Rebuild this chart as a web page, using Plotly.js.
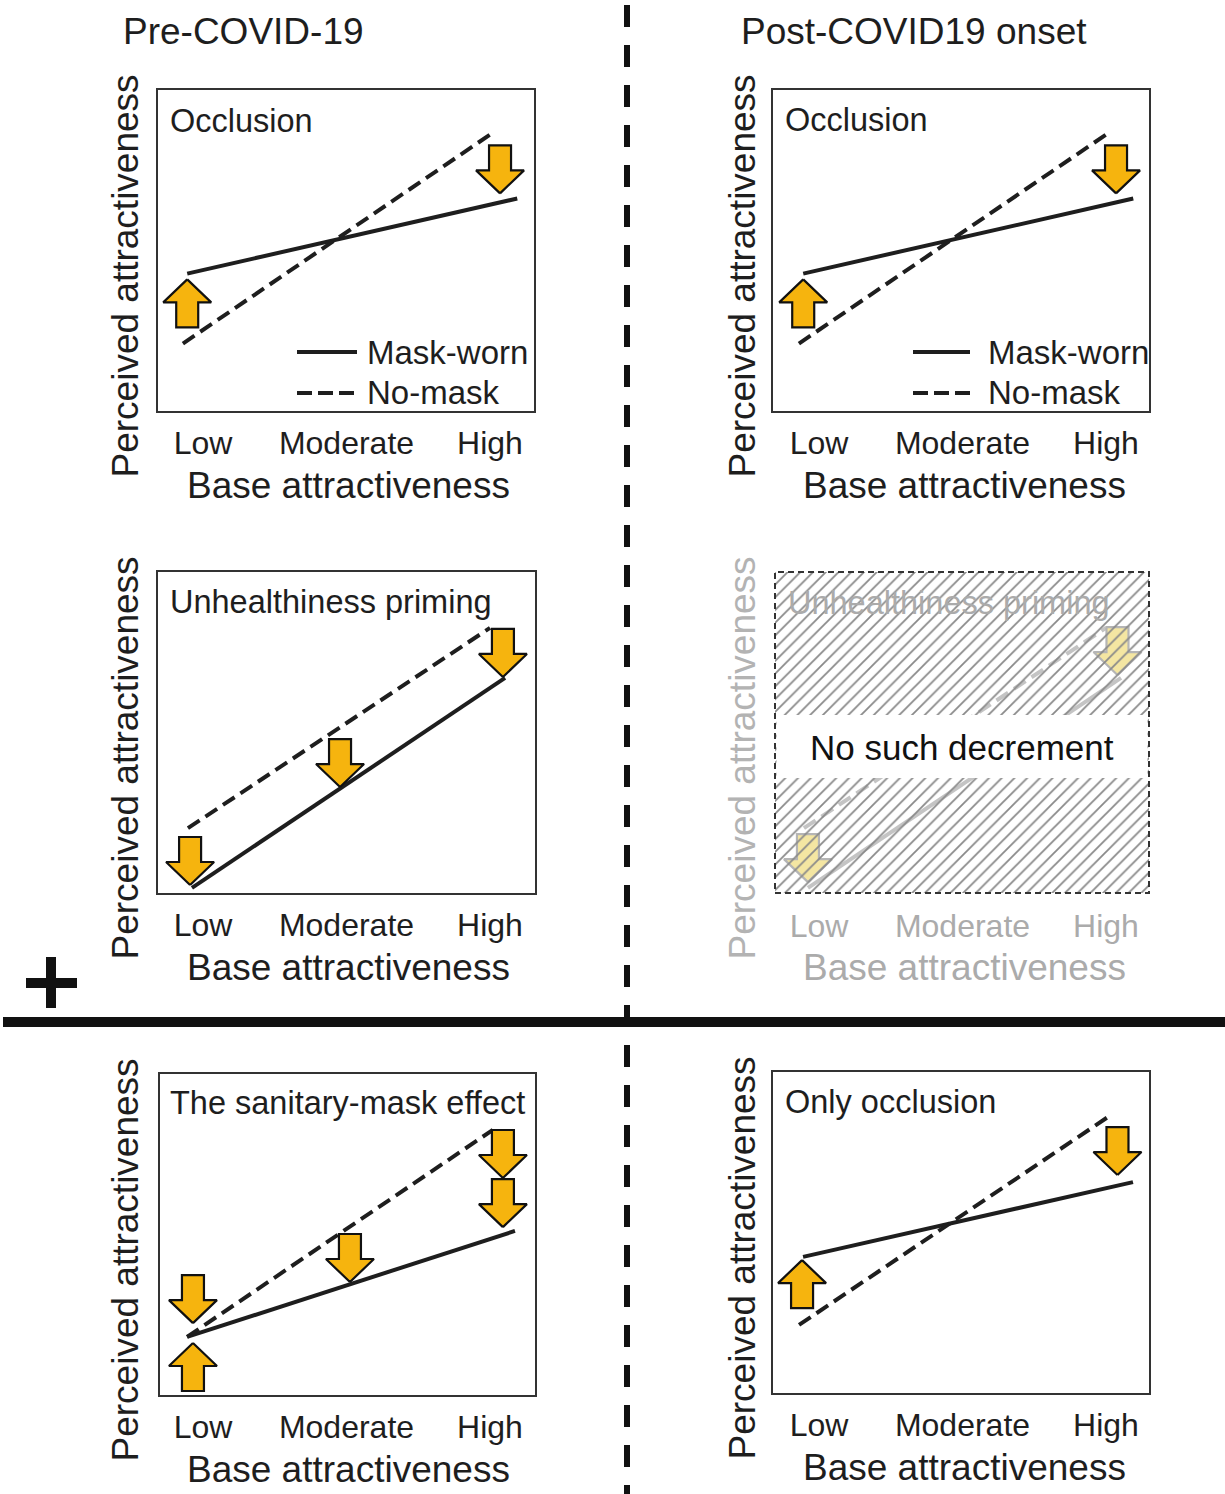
<!DOCTYPE html>
<html><head><meta charset="utf-8">
<script src="https://cdn.plot.ly/plotly-3.0.1.min.js"></script>
<style>html,body{margin:0;padding:0;background:#fff}</style>
</head><body><div id="chart" style="width:1225px;height:1494px"></div>
<script>
// ---------------- text ----------------
const levels=[0,1,2];
const levelLabels=['Low','Moderate','High'];
const columnTitles=['Pre-COVID-19','Post-COVID19 onset'];
const panelTitles=['Occlusion','Occlusion','Unhealthiness priming','Unhealthiness priming','The sanitary-mask effect','Only occlusion'];
const legendNames=['Mask-worn','No-mask'];
const yTitle='Perceived attractiveness';
const xTitle='Base attractiveness';
const bandText='No such decrement';

// ---------------- data (x: 0=Low,1=Moderate,2=High ; y: 0..10) ----------------
// Occlusion (pre & post)
const occlMaskX=[-0.11,2.19],   occlMaskY=[4.28,6.62];
const occlNoMaskX=[-0.14,2.01], occlNoMaskY=[2.10,8.64];
const occlArrowX=[-0.11,2.07],  occlArrowY=[4.10,6.78], occlArrowDir=[1,-1];
// Unhealthiness priming
const unhMaskX=[-0.077,2.105],  unhMaskY=[0.16,6.70];
const unhNoMaskX=[-0.105,2.00], unhNoMaskY=[2.02,8.26];
const unhArrowX=[-0.09,0.955,2.09], unhArrowY=[0.25,3.30,6.73], unhArrowDir=[-1,-1,-1];
// Unhealthiness priming (faded, post-COVID)
const fadeArrowX=[-0.077,2.08], fadeArrowY=[0.34,6.79], fadeArrowDir=[-1,-1];
// Sanitary-mask effect
const sanMaskX=[-0.111,2.174],  sanMaskY=[1.81,5.11];
const sanNoMaskX=[-0.111,2.02], sanNoMaskY=[1.81,8.26];
const sanArrowX=[-0.07,-0.07,1.024,2.09,2.09], sanArrowY=[2.24,1.62,3.52,6.76,5.23], sanArrowDir=[-1,1,-1,-1,-1];
// Only occlusion
const onlyMaskX=[-0.111,2.188], onlyMaskY=[4.24,6.57];
const onlyNoMaskX=[-0.139,2.014], onlyNoMaskY=[2.12,8.60];
const onlyArrowX=[-0.118,2.08], onlyArrowY=[4.14,6.79], onlyArrowDir=[1,-1];

// ---------------- layout constants ----------------
const W=1225,H=1494;
const FONT='Liberation Sans, Arial, Helvetica, sans-serif';
const INK='#1e1e1e', BOX='#333333';
const FADE_TXT='#ababab', FADE_LINE='#c4c4c4';
const ARROW_FILL='#F6B40E', FADE_FILL='#F4E6A2', FADE_EDGE='#b5b5b5';
const LW=4;
const UNIT=143.5; // px per level step
const YR=[0,10];
const PANELS={
  TL:{n:1,xd:[158,534],yd:[90,411],low:203},
  TR:{n:2,xd:[773,1149],yd:[90,411],low:819},
  ML:{n:3,xd:[158,535],yd:[572,893],low:203},
  MR:{n:4,xd:[775,1149],yd:[572,893],low:819},
  BL:{n:5,xd:[160,535],yd:[1074,1395],low:203},
  BR:{n:6,xd:[773,1149],yd:[1072,1393],low:819}
};
const AR={L:48,HL:23,HW:24,SW:11};

function px(x){return x/W;} function py(y){return 1-y/H;}
function xr(p){return [(p.xd[0]-p.low)/UNIT,(p.xd[1]-p.low)/UNIT];}
function ax(p,k){return (p.n===1?k:k+p.n);}

const traces=[];
function lineTrace(p,x,y,dash,color){
  traces.push({type:'scatter',mode:'lines',x:x,y:y,xaxis:ax(p,'x'),yaxis:ax(p,'y'),
    line:{color:color||INK,width:LW,dash:dash},hoverinfo:'skip',showlegend:false});
}
function arrowTrace(p,X,Y,D,fill,edge){
  const sx=UNIT, sy=(p.yd[1]-p.yd[0])/(YR[1]-YR[0]);
  const pts=[[0,0],[AR.HW,AR.HL],[AR.SW,AR.HL],[AR.SW,AR.L],[-AR.SW,AR.L],[-AR.SW,AR.HL],[-AR.HW,AR.HL],[0,0]];
  const xs=[],ys=[];
  X.forEach((x0,i)=>{
    pts.forEach(q=>{xs.push(x0+q[0]/sx); ys.push(Y[i]+(-D[i])*q[1]/sy);});
    xs.push(null); ys.push(null);
  });
  traces.push({type:'scatter',mode:'lines',x:xs,y:ys,xaxis:ax(p,'x'),yaxis:ax(p,'y'),
    fill:'toself',fillcolor:fill,line:{color:edge,width:2.2},hoverinfo:'skip',showlegend:false});
}

const P=PANELS;
const DASH='14px,7px';
lineTrace(P.TL,occlMaskX,occlMaskY,'solid'); lineTrace(P.TL,occlNoMaskX,occlNoMaskY,DASH);
arrowTrace(P.TL,occlArrowX,occlArrowY,occlArrowDir,ARROW_FILL,'#111');
lineTrace(P.TR,occlMaskX,occlMaskY,'solid'); lineTrace(P.TR,occlNoMaskX,occlNoMaskY,DASH);
arrowTrace(P.TR,occlArrowX,occlArrowY,occlArrowDir,ARROW_FILL,'#111');
lineTrace(P.ML,unhMaskX,unhMaskY,'solid'); lineTrace(P.ML,unhNoMaskX,unhNoMaskY,DASH);
arrowTrace(P.ML,unhArrowX,unhArrowY,unhArrowDir,ARROW_FILL,'#111');
lineTrace(P.MR,unhMaskX,unhMaskY,'solid',FADE_LINE); lineTrace(P.MR,unhNoMaskX,unhNoMaskY,DASH,FADE_LINE);
arrowTrace(P.MR,fadeArrowX,fadeArrowY,fadeArrowDir,FADE_FILL,FADE_EDGE);
// hatch overlay over faded panel
(function(){const r=xr(P.MR);
  traces.push({type:'scatter',mode:'lines',x:[r[0],r[1],r[1],r[0],r[0]],y:[YR[0],YR[0],YR[1],YR[1],YR[0]],
    xaxis:'x4',yaxis:'y4',fill:'toself',fillcolor:'rgba(0,0,0,0)',line:{width:0,color:'rgba(0,0,0,0)'},
    fillpattern:{shape:'/',size:9,solidity:0.2,fgcolor:'#8a8a8a',fillmode:'replace'},
    hoverinfo:'skip',showlegend:false});})();
lineTrace(P.BL,sanMaskX,sanMaskY,'solid'); lineTrace(P.BL,sanNoMaskX,sanNoMaskY,DASH);
arrowTrace(P.BL,sanArrowX,sanArrowY,sanArrowDir,ARROW_FILL,'#111');
lineTrace(P.BR,onlyMaskX,onlyMaskY,'solid'); lineTrace(P.BR,onlyNoMaskX,onlyNoMaskY,DASH);
arrowTrace(P.BR,onlyArrowX,onlyArrowY,onlyArrowDir,ARROW_FILL,'#111');

const layout={width:W,height:H,margin:{l:0,r:0,t:0,b:0},paper_bgcolor:'#fff',plot_bgcolor:'rgba(0,0,0,0)',
  showlegend:false,font:{family:FONT,color:INK},annotations:[],shapes:[]};

function note(x,y,text,size,color,opts){
  layout.annotations.push(Object.assign({xref:'paper',yref:'paper',x:px(x),y:py(y),text:text,showarrow:false,
    xanchor:'center',yanchor:'middle',font:{family:FONT,size:size,color:color}},opts||{}));
}

Object.keys(P).forEach(k=>{
  const p=P[k], faded=(k==='MR');
  const xa={domain:[p.xd[0]/W,p.xd[1]/W],range:xr(p),anchor:ax(p,'y'),tickmode:'array',tickvals:levels,ticktext:levelLabels,
    ticks:'',showgrid:false,zeroline:false,showline:!faded,mirror:true,linecolor:BOX,linewidth:2,
    tickfont:{family:FONT,size:32,color:faded?FADE_TXT:INK},ticklabelstandoff:faded?11:3,fixedrange:true};
  const ya={domain:[1-p.yd[1]/H,1-p.yd[0]/H],range:YR,anchor:ax(p,'x'),showticklabels:false,ticks:'',
    showgrid:false,zeroline:false,showline:!faded,mirror:true,linecolor:BOX,linewidth:2,fixedrange:true};
  layout[p.n===1?'xaxis':'xaxis'+p.n]=xa;
  layout[p.n===1?'yaxis':'yaxis'+p.n]=ya;
  const col=(p.xd[0]<600)?0:1;
  const yc=(p.yd[0]+p.yd[1])/2;
  note(col?742:125, yc+26, yTitle, 37, faded?'#b3b3b3':INK, {textangle:-90});
  note(col?964:348, p.yd[1]+74, xTitle, 37, faded?FADE_TXT:INK);
});

// panel titles
[[P.TL,168,121],[P.TR,783,120],[P.ML,168,602],[P.MR,786,603],[P.BL,168,1103],[P.BR,783,1102]].forEach((t,i)=>{
  note(t[1],t[2],panelTitles[i],32.5,(t[0]===P.MR)?FADE_TXT:INK,{xanchor:'left'});
});
// column titles
note(243,31,columnTitles[0],37,INK);
note(914,31,columnTitles[1],37,INK);
// legends in occlusion panels
[[297,357,365],[913,970,986]].forEach(l=>{
  layout.shapes.push({type:'line',xref:'paper',yref:'paper',x0:px(l[0]),x1:px(l[1]),y0:py(352),y1:py(352),line:{color:INK,width:LW}});
  layout.shapes.push({type:'line',xref:'paper',yref:'paper',x0:px(l[0]),x1:px(l[1]),y0:py(393),y1:py(393),line:{color:INK,width:LW,dash:'15px,6px'}});
  note(l[2],352,legendNames[0],33,INK,{xanchor:'left'});
  note(l[2],393,legendNames[1],33,INK,{xanchor:'left'});
});
// faded panel: white band, dashed frame, message
layout.shapes.push({type:'rect',xref:'x4 domain',yref:'y4 domain',x0:0.004,x1:0.996,y0:(893-778)/321,y1:(893-715)/321,
  fillcolor:'#fff',line:{width:0},layer:'above'});
layout.shapes.push({type:'rect',xref:'x4 domain',yref:'y4 domain',x0:0,x1:1,y0:0,y1:1,
  line:{color:BOX,width:2,dash:'6px,4px'},layer:'above'});
note(962,747,bandText,35,'#111');
// dividers and plus sign
layout.shapes.push({type:'line',xref:'paper',yref:'paper',x0:px(627),x1:px(627),y0:py(5),y1:0,line:{color:'#111',width:6,dash:'22px,18px'}});
layout.shapes.push({type:'line',xref:'paper',yref:'paper',x0:px(3),x1:1,y0:py(1022),y1:py(1022),line:{color:'#111',width:10}});
layout.shapes.push({type:'line',xref:'paper',yref:'paper',x0:px(26),x1:px(77),y0:py(983),y1:py(983),line:{color:'#111',width:10}});
layout.shapes.push({type:'line',xref:'paper',yref:'paper',x0:px(51),x1:px(51),y0:py(957),y1:py(1008),line:{color:'#111',width:10}});

Plotly.newPlot('chart',traces,layout,{staticPlot:true,displayModeBar:false});
</script></body></html>
